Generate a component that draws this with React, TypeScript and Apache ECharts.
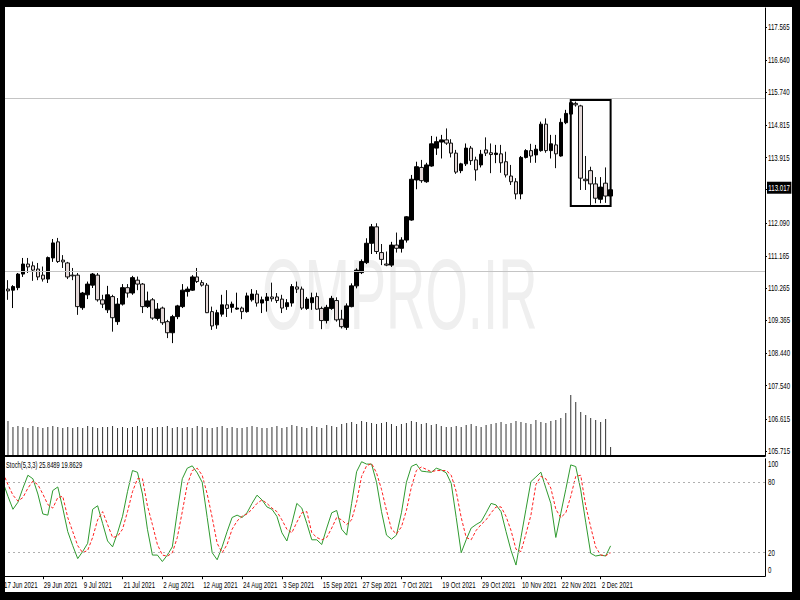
import React, { useEffect, useRef } from 'react';
import * as echarts from 'echarts';

// ---------- data ----------
const START_DATE = '2021-06-17';
const SLOT_COUNT = 154;

// [open, close, low, high]
const candles: number[][] = [
  [110.27,110.19,109.94,110.44],[110.24,110.19,109.94,110.49],[110.21,110.31,109.71,110.35],[110.28,110.66,110.21,110.69],
  [110.66,110.94,110.58,111.11],[110.94,110.86,110.69,111.11],[110.89,110.77,110.47,111.01],[110.80,110.58,110.49,110.97],
  [110.63,110.52,110.45,110.87],[110.52,111.12,110.41,111.15],[111.11,111.53,111.00,111.64],[111.56,111.01,110.97,111.67],
  [111.05,111.00,110.83,111.19],[110.97,110.58,110.52,111.00],[110.63,110.61,110.49,110.83],[110.63,109.75,109.52,110.69],
  [109.72,110.13,109.66,110.16],[110.08,110.38,109.96,110.45],[110.35,110.66,110.27,110.69],[110.63,109.94,109.89,110.69],
  [109.94,109.82,109.71,110.08],[109.66,110.08,109.57,110.33],[110.03,109.44,109.05,110.08],[109.33,109.82,109.24,109.99],
  [109.82,110.28,109.78,110.38],[110.28,110.13,110.00,110.38],[110.13,110.56,110.08,110.61],[110.49,110.38,110.21,110.59],
  [110.38,109.75,109.57,110.41],[109.75,109.91,109.71,110.17],[109.94,109.43,109.38,109.99],[109.42,109.68,109.36,109.85],
  [109.71,109.30,109.24,109.75],[109.33,109.02,108.87,109.38],[109.02,109.47,108.73,109.52],[109.47,109.77,109.40,109.80],
  [109.75,110.21,109.71,110.38],[110.17,110.24,110.03,110.31],[110.21,110.58,110.19,110.63],[110.58,110.45,110.41,110.83],
  [110.42,110.35,110.31,110.49],[110.35,109.58,109.57,110.41],[109.61,109.21,109.10,109.75],[109.24,109.58,109.13,109.66],
  [109.54,109.80,109.47,110.08],[109.80,109.70,109.46,110.21],[109.73,109.82,109.58,109.89],[109.68,109.71,109.66,110.14],
  [109.71,109.61,109.40,109.75],[109.61,110.05,109.58,110.14],[109.94,110.10,109.89,110.24],[110.10,109.85,109.75,110.21],
  [109.85,109.94,109.57,110.03],[109.92,110.02,109.61,110.13],[110.02,109.97,109.89,110.42],[110.02,109.92,109.85,110.13],
  [109.96,109.71,109.57,110.08],[109.75,109.86,109.66,109.96],[109.85,110.31,109.75,110.38],[110.30,110.24,110.13,110.45],
  [110.24,109.71,109.66,110.31],[109.70,109.96,109.66,110.02],[109.86,110.00,109.66,110.14],[110.03,109.68,109.66,110.14],
  [109.70,109.36,109.12,109.75],[109.36,109.73,109.28,109.80],[109.70,109.98,109.66,110.05],[109.92,109.38,109.33,110.01],
  [109.40,109.19,109.14,109.66],[109.17,109.77,109.10,109.84],[109.75,110.33,109.73,110.40],[110.33,110.77,110.26,110.82],
  [110.70,111.01,110.66,111.07],[110.98,111.52,110.94,111.66],[111.52,111.98,111.22,112.06],[111.98,111.29,111.22,112.08],
  [111.26,111.07,110.91,111.50],[110.94,110.91,110.88,111.29],[110.91,111.47,110.86,111.56],[111.47,111.38,111.26,111.82],
  [111.38,111.61,111.26,111.69],[111.61,112.26,111.54,112.28],[112.17,113.31,112.15,113.43],[113.29,113.66,113.03,113.80],
  [113.64,113.27,113.21,113.85],[113.24,113.71,113.21,113.77],[113.68,114.30,113.66,114.52],[114.18,114.36,113.99,114.50],
  [114.35,114.41,113.89,114.55],[114.41,114.32,114.27,114.73],[114.32,114.04,113.92,114.43],[114.04,113.51,113.46,114.13],
  [113.55,113.74,113.48,113.77],[113.74,114.18,113.68,114.31],[114.18,113.83,113.71,114.24],[113.85,113.57,113.27,113.94],
  [113.71,114.01,113.64,114.13],[114.13,114.04,113.96,114.48],[114.05,114.00,113.48,114.31],[114.00,114.04,113.76,114.27],
  [114.02,113.77,113.49,114.27],[113.80,113.43,113.36,114.08],[113.40,113.24,113.15,113.71],[113.24,112.90,112.75,113.34],
  [112.90,113.92,112.75,113.96],[113.92,114.11,113.89,114.15],[114.11,113.96,113.77,114.30],[113.99,114.15,113.77,114.27],
  [114.11,114.85,114.08,114.92],[114.85,114.11,114.05,115.01],[114.11,114.30,113.89,114.55],[114.27,114.02,113.62,114.55],
  [113.96,114.90,113.94,115.01],[114.89,115.15,114.85,115.25],[115.13,115.45,115.11,115.53],[115.43,115.39,115.34,115.48],
  [115.36,113.34,113.01,115.39],[113.31,113.27,113.01,113.96],[113.55,113.18,112.59,113.66],[113.18,112.78,112.64,113.37],
  [112.75,113.09,112.64,113.37],[113.20,112.84,112.65,113.64],[112.84,113.017,112.80,113.05],
];

const volumes: number[] = [
  35,34,28,29,28,27,29,28,27,28,29,28,27,28,27,28,27,29,28,27,28,28,29,27,28,27,28,29,27,28,
  27,28,28,29,27,28,27,28,27,29,28,27,27,28,29,27,28,27,27,28,29,28,27,27,28,29,27,28,30,29,
  28,27,29,28,27,30,29,28,31,32,33,31,34,33,32,31,32,33,31,29,31,32,34,33,31,32,30,31,29,28,
  28,29,28,30,31,29,28,30,31,32,33,31,32,34,33,32,31,35,33,32,34,35,37,42,60,53,43,40,37,35,
  33,36,8,
];

const stochK: number[] = [
  80,68,57,63,75,86,83,70,53,52,73,76,58,38,26,15,21,28,57,60,
  45,30,25,37,51,72,90,88.5,70,40,18,18,12.5,18,25,55,83,92,94,88,
  80,50,20,14,25,38,50,52,50,54,62,69,65,59,57,51,37,30,45,62,
  58,45,31,31,27,41,54,56,40,35,62,89,97.5,95.5,95.5,80,55,35,31.5,35,
  54,80,93.5,95.5,89.5,89,88.5,92,90.5,88,79,50,20,31,41,44,46.5,54,62,60.7,
  55,38,22,9.5,33,57,80.6,84.5,88.6,75,62,33,53.6,74,94.8,93.4,73.5,46,19.5,17.2,
  18,17.2,25.8489,
];

const stochD: number[] = [
  88,78,69,64,67,75,81,78,70,61,58,67,68,50,38,26,20,22,33,48,
  55,44,33,34,40,55,72,83,83,60,44,27,18,17,20,33,55,78,90,92,
  86,70,50,28,20,27,40,47,51,53,57,62,65,62,58,55,48,40,37,46,
  54,55,37,33,31,33,41,50,48,44,48,63,85,94,96,88,74,56,40,36,
  42,56,76,90,93,91,89,90,90,90,86,72,50,33,31,39,44,48,54,59,
  59,51,39,23,21,36,52,78,85,83,75,57,50,54,68,85,86,60,42,25,
  18,17.5,19.8629,
];

const priceTicks: number[] = [117.565,116.640,115.740,114.815,113.915,112.090,111.165,110.265,109.365,108.440,107.540,106.615,105.715];
const currentPrice = 113.017;
const levelLines: number[] = [115.581, 110.745];
const boxRange = { fromIndex: 114, toIndex: 122, high: 115.525, low: 112.562 };
const stochTicks: number[] = [0, 20, 80, 100];
const stochLevels: number[] = [20, 80];
const stochTitle = 'Stoch(5,3,3) 25.8489 19.8629';
const watermark = 'OMPRO.IR';

const MONTHS = ['Jan','Feb','Mar','Apr','May','Jun','Jul','Aug','Sep','Oct','Nov','Dec'];

function tradingDays(start: string, count: number): string[] {
  const out: string[] = [];
  const d = new Date(start + 'T00:00:00Z');
  while (out.length < count) {
    const wd = d.getUTCDay();
    if (wd !== 0 && wd !== 6) out.push(`${d.getUTCDate()} ${MONTHS[d.getUTCMonth()]} ${d.getUTCFullYear()}`);
    d.setUTCDate(d.getUTCDate() + 1);
  }
  return out;
}

const FONT = "'Liberation Sans', Arial, sans-serif";
const SQUEEZE = 0.68;

export default function App() {
  const ref = useRef<HTMLDivElement>(null);
  useEffect(() => {
    if (!ref.current) return;
    const chart = echarts.init(ref.current, undefined, { renderer: 'svg' });
    const dates = tradingDays(START_DATE, SLOT_COUNT);
    const L = 3, R = 35;
    const labelEvery = (i: number) => i % 8 === 0 && i <= 120;

    const baseGraphic: any[] = [
      { id: 'wm', type: 'text', x: 262, y: 244, scaleX: 0.545, z: -1, silent: true,
        style: { text: watermark, fontSize: 100, fontFamily: FONT, fill: '#efefef', textVerticalAlign: 'top' } },
      { id: 'st', type: 'text', x: 6, y: 461, scaleX: 0.64, z: 50, silent: true,
        style: { text: stochTitle, fontSize: 9, fontFamily: FONT, fill: '#000', textVerticalAlign: 'top' } },
      { id: 'f1', type: 'rect', z: 100, silent: true, shape: { x: 0, y: 0, width: 800, height: 7 }, style: { fill: '#000' } },
      { id: 'f2', type: 'rect', z: 100, silent: true, shape: { x: 0, y: 0, width: 5, height: 600 }, style: { fill: '#000' } },
      { id: 'f3', type: 'rect', z: 100, silent: true, shape: { x: 792, y: 0, width: 8, height: 600 }, style: { fill: '#000' } },
      { id: 'f4', type: 'rect', z: 100, silent: true, shape: { x: 0, y: 592, width: 800, height: 8 }, style: { fill: '#000' } },
    ];

    const option: any = {
      animation: false,
      backgroundColor: '#ffffff',
      grid: [
        { left: L, right: R, top: 8, bottom: 144.5, outerBoundsMode: 'none' },
        { left: L, right: R, top: 355, bottom: 145, outerBoundsMode: 'none' },
        { left: L, right: R, top: 458.8, bottom: 23.8, outerBoundsMode: 'none' },
      ],
      xAxis: [
        { type: 'category', gridIndex: 0, data: dates, boundaryGap: false,
          axisLine: { lineStyle: { color: '#000', width: 2 } }, axisTick: { show: false }, axisLabel: { show: false }, splitLine: { show: false } },
        { type: 'category', gridIndex: 1, data: dates, boundaryGap: false, show: false },
        { type: 'category', gridIndex: 2, data: dates, boundaryGap: false,
          axisLine: { lineStyle: { color: '#000', width: 1 } },
          axisTick: { interval: (i: number) => labelEvery(i), length: 3, lineStyle: { color: '#000' } },
          axisLabel: { show: false },
          splitLine: { show: false } },
      ],
      yAxis: [
        { type: 'value', gridIndex: 0, position: 'right', min: 105.589, max: 118.096,
          splitLine: { show: false },
          axisLine: { show: true, lineStyle: { color: '#000' } },
          axisTick: { show: true, customValues: [...priceTicks, currentPrice], length: 2, lineStyle: { color: '#000' } },
          axisLabel: { show: false } },
        { type: 'value', gridIndex: 1, min: 0, max: 100, show: false },
        { type: 'value', gridIndex: 2, position: 'right', min: 0, max: 100,
          splitLine: { show: false },
          axisLine: { show: true, lineStyle: { color: '#000' } },
          axisTick: { show: false },
          axisLabel: { show: false } },
      ],
      series: [
        { type: 'bar', xAxisIndex: 1, yAxisIndex: 1, data: volumes, barWidth: 1, itemStyle: { color: '#333' }, silent: true },
        { type: 'candlestick', xAxisIndex: 0, yAxisIndex: 0, data: candles, barWidth: 4,
          itemStyle: { color: '#000', color0: '#e4d8d8', borderColor: '#000', borderColor0: '#111', borderWidth: 1 },
          markLine: { symbol: 'none', silent: true, label: { show: false },
            lineStyle: { color: '#c4c4c4', type: 'solid', width: 1 },
            data: levelLines.map((v) => ({ yAxis: v })) },
          markArea: { silent: true, itemStyle: { color: 'rgba(0,0,0,0)', borderColor: '#000', borderWidth: 2 },
            data: [[{ coord: [dates[boxRange.fromIndex], boxRange.high] }, { coord: [dates[boxRange.toIndex], boxRange.low] }]] } },
        { type: 'line', xAxisIndex: 2, yAxisIndex: 2, data: stochK, showSymbol: false, lineStyle: { color: '#2f9a2f', width: 1 },
          markLine: { symbol: 'none', silent: true, label: { show: false }, lineStyle: { color: '#b0b0b0', type: [2, 3], width: 1 },
            data: stochLevels.map((v) => ({ yAxis: v })) } },
        { type: 'line', xAxisIndex: 2, yAxisIndex: 2, data: stochD, showSymbol: false, lineStyle: { color: '#ff2020', width: 1, type: [3, 2] } },
      ],
      graphic: baseGraphic,
    };
    chart.setOption(option);

    // axis labels (squeezed like the reference terminal font), placed through the axes' own scales
    const labels: any[] = [];
    const axisRightX = (chart.convertToPixel({ gridIndex: 0 } as any, [dates[SLOT_COUNT - 1], 110]) as number[])[0];
    const stochBottom = chart.convertToPixel({ yAxisIndex: 2 } as any, 0) as number;
    dates.forEach((d, i) => {
      if (!labelEvery(i)) return;
      const x = chart.convertToPixel({ xAxisIndex: 2 } as any, d) as number;
      labels.push({ id: 'xl' + i, type: 'text', x: x + 1, y: stochBottom + 4, scaleX: SQUEEZE, z: 50, silent: true,
        style: { text: d, fontSize: 9, fontFamily: FONT, fill: '#000', textVerticalAlign: 'top' } });
    });
    priceTicks.forEach((v, i) => {
      const y = chart.convertToPixel({ yAxisIndex: 0 } as any, v) as number;
      labels.push({ id: 'yl' + i, type: 'text', x: axisRightX + 3, y, scaleX: SQUEEZE, z: 50, silent: true,
        style: { text: v.toFixed(3), fontSize: 9, fontFamily: FONT, fill: '#000', textVerticalAlign: 'middle' } });
    });
    {
      const y = chart.convertToPixel({ yAxisIndex: 0 } as any, currentPrice) as number;
      labels.push({ id: 'cur', type: 'text', x: axisRightX + 2, y: y - 2, scaleX: SQUEEZE, z: 60, silent: true,
        style: { text: currentPrice.toFixed(3), fontSize: 9, fontFamily: FONT, fill: '#fff', backgroundColor: '#000',
          padding: [2, 2, 1, 2], textVerticalAlign: 'middle' } });
    }
    stochTicks.forEach((v) => {
      const y0 = chart.convertToPixel({ yAxisIndex: 2 } as any, v) as number;
      const y = v === 100 ? y0 + 5.5 : v === 0 ? y0 - 6 : y0;
      labels.push({ id: 'sl' + v, type: 'text', x: axisRightX + 3, y, scaleX: SQUEEZE, z: 50, silent: true,
        style: { text: String(v), fontSize: 9, fontFamily: FONT, fill: '#000', textVerticalAlign: 'middle' } });
    });
    chart.setOption({ graphic: [...baseGraphic, ...labels] });

    return () => chart.dispose();
  }, []);
  return (
    <div style={{ position: 'fixed', left: 0, top: 0, width: 800, height: 600, background: '#fff' }}>
      <div ref={ref} style={{ width: 800, height: 600 }} />
    </div>
  );
}
